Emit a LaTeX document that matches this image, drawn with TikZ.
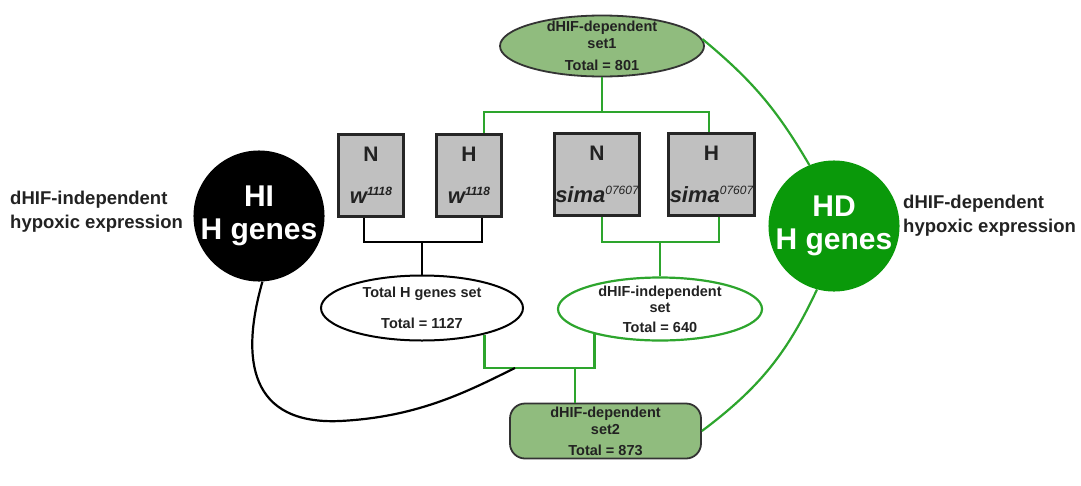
\documentclass[tikz,border=0pt]{standalone}
\usepackage{fontspec}
\setmainfont{Liberation Sans}
\usetikzlibrary{shapes.geometric}
\definecolor{setgreen}{HTML}{90BC7E}
\definecolor{linegreen}{HTML}{2DA52D}
\definecolor{hdgreen}{HTML}{0A990A}
\definecolor{boxgray}{HTML}{C0C0C0}
\definecolor{inkgray}{HTML}{222222}
\begin{document}
\begin{tikzpicture}[x=1pt,y=-1pt,font=\bfseries]
\tikzstyle{every node}+=[inner sep=0pt,align=center,text=inkgray]
\tikzstyle{gline}=[linegreen,line width=2.2pt]
\tikzstyle{bline}=[black,line width=2.2pt]
\tikzstyle{setfont}=[font=\fontsize{14.5}{17}\selectfont\bfseries]
\tikzstyle{setell}=[ellipse,setfont,draw=black!80,line width=1.8pt,fill=setgreen,inner ysep=-6pt,minimum width=204,minimum height=61]
\tikzstyle{genebox}=[rectangle,draw=black!85,line width=2.6pt,fill=boxgray,font=\fontsize{22}{42}\selectfont\bfseries]
\tikzstyle{hcircle}=[circle,text=white,font=\fontsize{30}{33}\selectfont\bfseries]
\tikzstyle{sidetext}=[anchor=west,align=left,font=\fontsize{18.5}{24}\selectfont\bfseries]
\useasboundingbox (0,0) rectangle (1081,485);
% sets
\node [setell] (s1) at (602,46) {dHIF-dependent\\set1\\[5pt]Total = 801};
\node [ellipse,setfont,draw=black,line width=2pt,fill=white,inner ysep=-4pt,minimum width=202,minimum height=65] (tot) at (422,308) {Total H genes set\\[14pt]Total = 1127};
\node [ellipse,setfont,draw=linegreen,line width=2.2pt,fill=white,inner ysep=-6pt,minimum width=204,minimum height=63,font=\fontsize{14.5}{16}\selectfont\bfseries] (ind) at (660,309) {dHIF-independent\\set\\[4pt]Total = 640};
\node [rectangle,rounded corners=15pt,setfont,draw=black!80,line width=1.8pt,fill=setgreen,minimum width=191,minimum height=55] (s2) at (605.5,431) {dHIF-dependent\\set2\\[4pt]Total = 873};
% strains
\node [genebox,minimum width=65.5,minimum height=82] (nw) at (371,175.5) {{\fontsize{21}{42}\selectfont N}\\{\itshape w}\raisebox{8pt}{\fontsize{12}{12}\selectfont\itshape 1118}};
\node [genebox,minimum width=65.5,minimum height=82] (hw) at (469,175.5) {{\fontsize{21}{42}\selectfont H}\\{\itshape w}\raisebox{8pt}{\fontsize{12}{12}\selectfont\itshape 1118}};
\node [genebox,minimum width=85.5,minimum height=82] (ns) at (597,174.5) {{\fontsize{21}{42}\selectfont N}\\{\itshape sima}\raisebox{8pt}{\fontsize{12}{12}\selectfont\mdseries\itshape 07607}};
\node [genebox,minimum width=85.5,minimum height=82] (hs) at (711.5,174.5) {{\fontsize{21}{42}\selectfont H}\\{\itshape sima}\raisebox{8pt}{\fontsize{12}{12}\selectfont\mdseries\itshape 07607}};
% gene classes
\node [hcircle,fill=black,minimum size=130] (hi) at (259,216) {HI\\H genes};
\node [hcircle,fill=hdgreen,minimum size=124] (hd) at (834,226) {HD\\H genes};
\node [sidetext] (hitext) at (10,212) {dHIF-independent\\hypoxic expression};
\node [sidetext] (hdtext) at (903,216) {dHIF-dependent\\hypoxic expression};
% connectors
\coordinate (jt) at (602,112);
\coordinate (jb) at (422,242);
\coordinate (jg) at (660,242);
\coordinate (jd) at (575,368);
\coordinate (jk) at (515,368);
\draw [gline] (s1.south) -- (jt);
\draw [gline] ([xshift=15]hw.north) |- (jt) -| ([xshift=-2.5]hs.north);
\draw [bline] ([xshift=-7]nw.south) |- (jb) -| ([xshift=13]hw.south);
\draw [bline] (jb) -- (tot.north);
\draw [gline] ([xshift=5]ns.south) |- (jg) -| ([xshift=7.5]hs.south);
\draw [gline] (jg) -- (ind.north);
\draw [gline] (tot.-23) |- (jd) -| (ind.-159);
\draw [gline] (jd) -- (jd |- s2.north);
\draw [bline] (hi.-87) .. controls (240,360) and (250,425) .. (340,421) .. controls (420,417) and (470,390) .. (jk);
\draw [gline] (s1.4) to[bend left=10] (hd.112);
\draw [gline] (s2.east) to[bend right=14] (hd.-105);
\end{tikzpicture}
\end{document}
